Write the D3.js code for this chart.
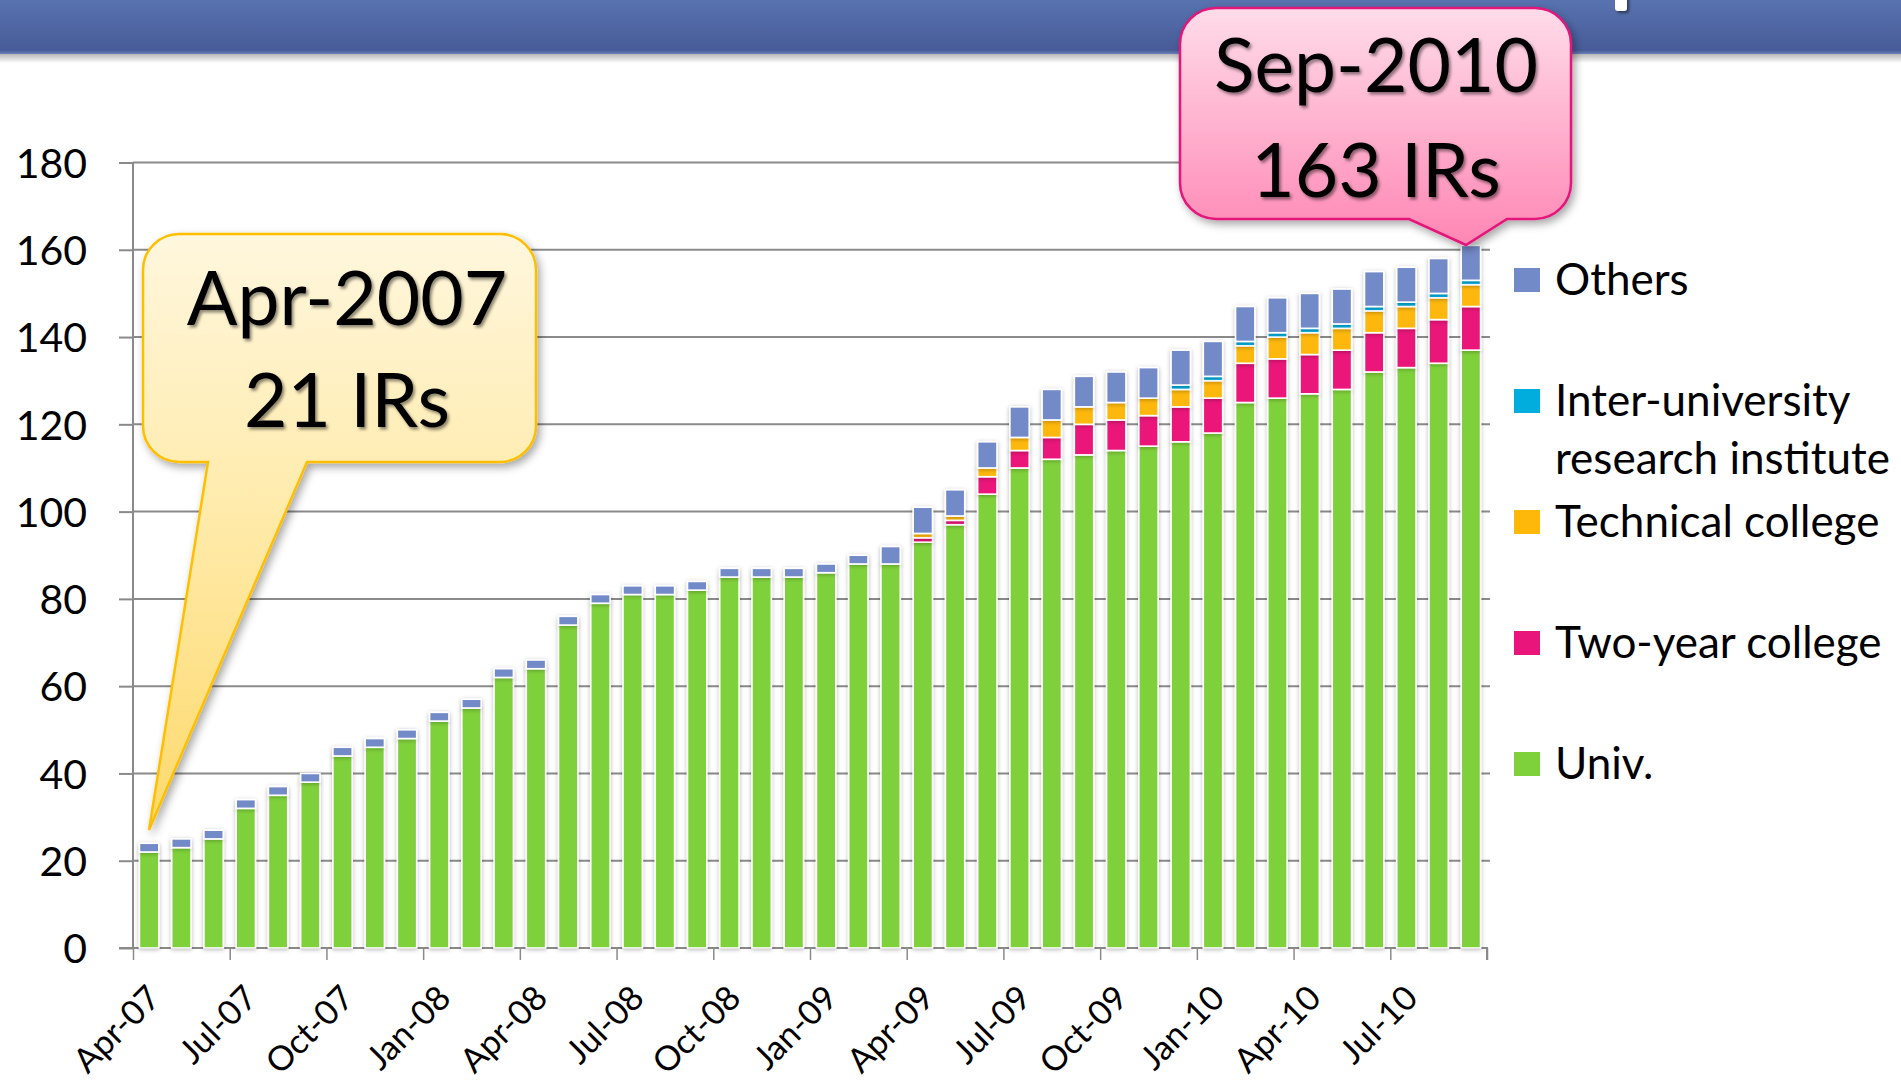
<!DOCTYPE html>
<html><head><meta charset="utf-8">
<script src="https://cdn.jsdelivr.net/npm/d3@7"></script>
<style>
body{margin:0;background:#fff}
svg{display:block;font-family:Lato,"Open Sans",sans-serif}
</style>
</head><body>
<svg id="chart" width="1901" height="1083"></svg>
<script>
// ---------- data ----------
const months = ["Apr-07","May-07","Jun-07","Jul-07","Aug-07","Sep-07","Oct-07","Nov-07","Dec-07",
  "Jan-08","Feb-08","Mar-08","Apr-08","May-08","Jun-08","Jul-08","Aug-08","Sep-08","Oct-08","Nov-08","Dec-08",
  "Jan-09","Feb-09","Mar-09","Apr-09","May-09","Jun-09","Jul-09","Aug-09","Sep-09","Oct-09","Nov-09","Dec-09",
  "Jan-10","Feb-10","Mar-10","Apr-10","May-10","Jun-10","Jul-10","Aug-10","Sep-10"];
const univ      = [22,23,25,32,35,38,44,46,48,52,55,62,64,74,79,81,81,82,85,85,85,86,88,88,93,97,104,110,112,113,114,115,116,118,125,126,127,128,132,133,134,137];
const twoYear   = [0,0,0,0,0,0,0,0,0,0,0,0,0,0,0,0,0,0,0,0,0,0,0,0,1,1,4,4,5,7,7,7,8,8,9,9,9,9,9,9,10,10];
const technical = [0,0,0,0,0,0,0,0,0,0,0,0,0,0,0,0,0,0,0,0,0,0,0,0,1,1,2,3,4,4,4,4,4,4,4,5,5,5,5,5,5,5];
const interUniv = [0,0,0,0,0,0,0,0,0,0,0,0,0,0,0,0,0,0,0,0,0,0,0,0,0,0,0,0,0,0,0,0,1,1,1,1,1,1,1,1,1,1];
const others    = [2,2,2,2,2,2,2,2,2,2,2,2,2,2,2,2,2,2,2,2,2,2,2,4,6,6,6,7,7,7,7,7,8,8,8,8,8,8,8,8,8,8];
const seriesKeys   = ["univ","twoYear","technical","interUniv","others"];
const seriesNames  = ["Univ.","Two-year college","Technical college","Inter-university\nresearch institute","Others"];
const seriesColors = ["#7fd13b","#ea157a","#feb80a","#00addc","#738ac8"];
const yTicks = [0,20,40,60,80,100,120,140,160,180];
const xTickLabels = ["Apr-07","Jul-07","Oct-07","Jan-08","Apr-08","Jul-08","Oct-08","Jan-09","Apr-09","Jul-09","Oct-09","Jan-10","Apr-10","Jul-10"];
const calloutStart = ["Apr-2007","21 IRs"];
const calloutEnd   = ["Sep-2010","163 IRs"];

// ---------- build ----------
const table = months.map((m,i)=>({month:m, univ:univ[i], twoYear:twoYear[i], technical:technical[i], interUniv:interUniv[i], others:others[i]}));
const stacked = d3.stack().keys(seriesKeys)(table);

const svg = d3.select("#chart");
const defs = svg.append("defs");

const L = 133, R = 1487, B = 948, T = 162.5;
const x = d3.scaleBand().domain(months).range([L,R]).paddingInner(0.4).paddingOuter(0.2);
const y = d3.scaleLinear().domain([0,180]).range([B,T]);
const xi = d3.scaleLinear().domain([0,months.length]).range([L,R]);
const color = d3.scaleOrdinal().domain(seriesKeys).range(seriesColors);

// filters
const fBar = defs.append("filter").attr("id","barShadow").attr("x","-50%").attr("y","-10%").attr("width","200%").attr("height","120%");
fBar.append("feDropShadow").attr("dx",0).attr("dy",1).attr("stdDeviation",2.2).attr("flood-color","#000").attr("flood-opacity",0.28);
const fBox = defs.append("filter").attr("id","boxShadow").attr("x","-20%").attr("y","-20%").attr("width","140%").attr("height","140%");
fBox.append("feDropShadow").attr("dx",3).attr("dy",4).attr("stdDeviation",4).attr("flood-color","#000").attr("flood-opacity",0.35);
const fTxt = defs.append("filter").attr("id","txtShadow").attr("x","-10%").attr("y","-10%").attr("width","120%").attr("height","130%");
fTxt.append("feDropShadow").attr("dx",2).attr("dy",2.5).attr("stdDeviation",1.6).attr("flood-color","#000").attr("flood-opacity",0.45);
const fPiece = defs.append("filter").attr("id","pieceShadow").attr("x","-50%").attr("y","-50%").attr("width","200%").attr("height","200%");
fPiece.append("feDropShadow").attr("dx",2).attr("dy",2).attr("stdDeviation",1.5).attr("flood-color","#000").attr("flood-opacity",0.5);

// header band
const hg = defs.append("linearGradient").attr("id","hdr").attr("x1",0).attr("y1",0).attr("x2",0).attr("y2",1);
hg.append("stop").attr("offset",0).attr("stop-color","#5872b0");
hg.append("stop").attr("offset",0.93).attr("stop-color","#475c98");
hg.append("stop").attr("offset",1).attr("stop-color","#6c80b8");
const hs = defs.append("linearGradient").attr("id","hdrShadow").attr("x1",0).attr("y1",0).attr("x2",0).attr("y2",1);
hs.append("stop").attr("offset",0).attr("stop-color","#000").attr("stop-opacity",0.28);
hs.append("stop").attr("offset",1).attr("stop-color","#000").attr("stop-opacity",0);
svg.append("rect").attr("x",0).attr("y",54).attr("width",1901).attr("height",9).attr("fill","url(#hdrShadow)");
svg.append("rect").attr("x",0).attr("y",0).attr("width",1901).attr("height",54).attr("fill","url(#hdr)");
// fragment of the cut-off slide title glyph
svg.append("path").attr("d","M1615,-4H1627V8Q1627,11 1624,11H1618Q1615,11 1615,8Z")
  .attr("fill","#fff").attr("filter","url(#pieceShadow)");

// gridlines
svg.append("g").selectAll("line").data(yTicks.filter(d=>d>0)).join("line")
  .attr("x1",L).attr("x2",R+3).attr("y1",d=>y(d)).attr("y2",d=>y(d))
  .attr("stroke","#8a8a8a").attr("stroke-width",2);

// y axis
const yAxis = svg.append("g").attr("transform",`translate(${L},0)`)
  .call(d3.axisLeft(y).tickValues(yTicks).tickSize(14).tickPadding(32));
yAxis.select(".domain").attr("stroke","#8a8a8a").attr("stroke-width",2).attr("d",`M-14,${B}H0V${T}`);
yAxis.selectAll(".tick line").attr("stroke","#8a8a8a").attr("stroke-width",2);
yAxis.selectAll(".tick text").attr("font-size",41).attr("font-family","Lato").attr("fill","#000").attr("dy","0.36em");

// x axis
const xTickIdx = d3.range(0, months.length+1, 3);
const xAxis = svg.append("g").attr("transform",`translate(0,${B})`)
  .call(d3.axisBottom(xi).tickValues(xTickIdx).tickSize(12).tickFormat(i => xTickLabels.includes(months[i]) ? months[i] : ""));
xAxis.select(".domain").attr("stroke","#8a8a8a").attr("stroke-width",2).attr("d",`M${L},0H${R}V12`);
xAxis.selectAll(".tick line").attr("stroke","#8a8a8a").attr("stroke-width",1.5);
xAxis.selectAll(".tick text").attr("font-size",34).attr("font-family","Lato").attr("fill","#000")
  .attr("x",0).attr("y",0).attr("dy",0).attr("text-anchor","end")
  .attr("transform","translate(29,52) rotate(-45)");

// bars
svg.append("g").selectAll("g").data(stacked).join("g")
  .attr("fill",d=>color(d.key)).attr("filter","url(#barShadow)")
  .selectAll("rect").data(d=>d.filter(s=>s[1]-s[0]>0)).join("rect")
  .attr("x",d=>x(d.data.month)).attr("width",x.bandwidth())
  .attr("y",d=>y(d[1])).attr("height",d=>y(d[0])-y(d[1]))
  .attr("stroke","#fff").attr("stroke-width",1.6);

// legend
const legendOrder = seriesKeys.map((k,i)=>({key:k,name:seriesNames[i]})).reverse();
const lg = svg.append("g").selectAll("g").data(legendOrder).join("g")
  .attr("transform",(d,i)=>`translate(1514,${295+i*121})`);
lg.append("rect").attr("x",0).attr("y",-27).attr("width",26).attr("height",24).attr("fill",d=>color(d.key));
lg.append("text").attr("x",41).attr("y",0).attr("font-size",44).attr("fill","#000")
  .selectAll("tspan").data(d=>d.name.split("\n")).join("tspan")
  .attr("x",41).attr("dy",(d,i)=>i===0?0:58).text(d=>d);

// callouts
function callout(id, box, base, tip, stops, stroke, lines, cx, baselines){
  const g = defs.append("linearGradient").attr("id",id).attr("gradientUnits","userSpaceOnUse")
    .attr("x1",0).attr("x2",0).attr("y1",Math.min(box.y0,tip[1])).attr("y2",Math.max(box.y1,tip[1]));
  stops.forEach(s=>g.append("stop").attr("offset",s[0]).attr("stop-color",s[1]));
  const r = 36, {x0,y0,x1,y1} = box;
  const p = d3.path();
  p.moveTo(x0+r,y0); p.lineTo(x1-r,y0); p.arcTo(x1,y0,x1,y0+r,r); p.lineTo(x1,y1-r); p.arcTo(x1,y1,x1-r,y1,r);
  p.lineTo(base[1],y1); p.lineTo(tip[0],tip[1]); p.lineTo(base[0],y1);
  p.lineTo(x0+r,y1); p.arcTo(x0,y1,x0,y1-r,r); p.lineTo(x0,y0+r); p.arcTo(x0,y0,x0+r,y0,r); p.closePath();
  svg.append("path").attr("d",p.toString()).attr("fill",`url(#${id})`).attr("stroke",stroke).attr("stroke-width",2.5)
    .attr("filter","url(#boxShadow)");
  svg.append("g").attr("filter","url(#txtShadow)").selectAll("text").data(lines).join("text")
    .attr("x",cx).attr("y",(d,i)=>baselines[i]).attr("text-anchor","middle").attr("font-size",75).attr("fill","#000").text(d=>d);
}
callout("cg1",{x0:143,y0:234,x1:536,y1:462},[208,307],[149,830],
  [[0,"#fff7de"],[0.38,"#ffedb4"],[1,"#fdd96c"]],"#ffbf00",calloutStart,347,[325,427]);
callout("cg2",{x0:1180,y0:8,x1:1571,y1:219},[1409,1507],[1466,245],
  [[0,"#ffdce9"],[1,"#ff86b3"]],"#e3157a",calloutEnd,1376,[92,197]);
</script>
</body></html>
